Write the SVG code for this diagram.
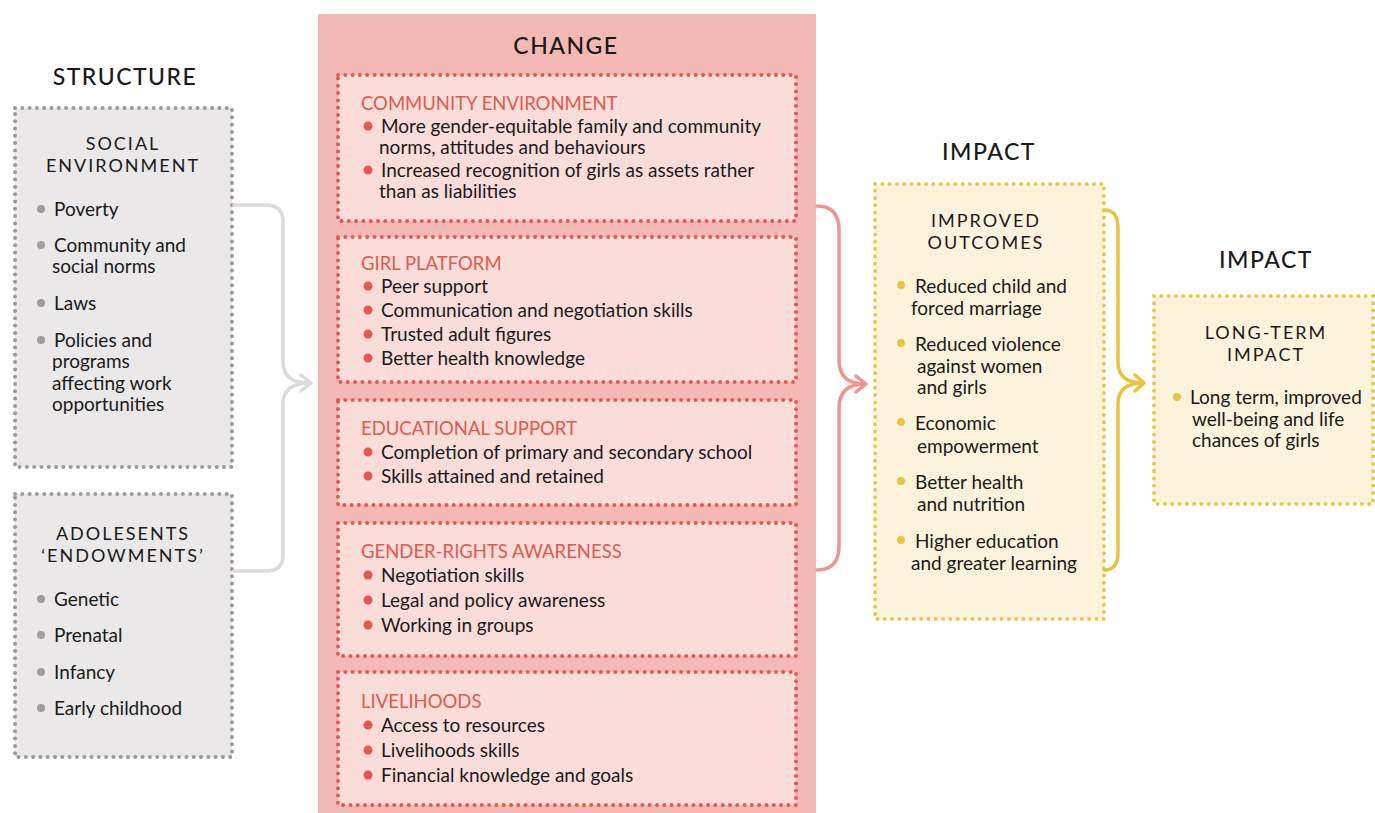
<svg xmlns="http://www.w3.org/2000/svg" width="1375" height="813" viewBox="0 0 1375 813">
<style>
.t{font-family:Lato,"Liberation Sans",sans-serif;fill:#1a1a1a}
.title{font-size:23px;letter-spacing:1.5px;text-anchor:middle;font-weight:500}
.hdr{font-size:18px;letter-spacing:2px;text-anchor:middle}
.item{font-size:19px}
.red{font-family:Lato,"Liberation Sans",sans-serif;font-size:18.5px;fill:#e05a4e}
.gbox{fill:#eae8e9;stroke:#9f999d;stroke-width:4;stroke-dasharray:0 7.3;stroke-linecap:round}
.pbox{fill:#fadcd9;stroke:#e8574f;stroke-width:4;stroke-dasharray:0 7.3;stroke-linecap:round}
.ybox{fill:#fdf3dc;stroke:#ebc74a;stroke-width:4;stroke-dasharray:0 7.3;stroke-linecap:round}
.gb{fill:#a29ba1}.rb{fill:#e8574f}.yb{fill:#ecc443}
.con{fill:none;stroke-width:3.5;stroke-linecap:round;stroke-linejoin:round}
</style>
<rect width="1375" height="813" fill="#ffffff"/>

<g id="structure">
<text class="t title" x="125" y="85">STRUCTURE</text>
</g>
<g id="social-environment">
<rect class="gbox" x="15" y="108" width="217" height="359"/>
<text class="t hdr" x="123" y="150">SOCIAL</text>
<text class="t hdr" x="123" y="172">ENVIRONMENT</text>
<circle class="gb" cx="41" cy="209" r="4"/><text class="t item" x="54" y="216">Poverty</text>
<circle class="gb" cx="41" cy="245" r="4"/><text class="t item" x="54" y="252">Community and</text><text class="t item" x="52" y="273">social norms</text>
<circle class="gb" cx="41" cy="303" r="4"/><text class="t item" x="54" y="310">Laws</text>
<circle class="gb" cx="41" cy="340" r="4"/><text class="t item" x="54" y="347">Policies and</text><text class="t item" x="52" y="368">programs</text><text class="t item" x="52" y="390">affecting work</text><text class="t item" x="52" y="411">opportunities</text>
</g>
<g id="endowments">
<rect class="gbox" x="15" y="494" width="217" height="263"/>
<text class="t hdr" x="123" y="540">ADOLESENTS</text>
<text class="t hdr" x="123" y="562">‘ENDOWMENTS’</text>
<circle class="gb" cx="41" cy="599" r="4"/><text class="t item" x="54" y="606">Genetic</text>
<circle class="gb" cx="41" cy="635" r="4"/><text class="t item" x="54" y="642">Prenatal</text>
<circle class="gb" cx="41" cy="672" r="4"/><text class="t item" x="54" y="679">Infancy</text>
<circle class="gb" cx="41" cy="708" r="4"/><text class="t item" x="54" y="715">Early childhood</text>
</g>

<g id="change">
<rect x="318" y="14" width="498" height="799" fill="#f4b9b5"/>
<text class="t title" x="566" y="54">CHANGE</text>
</g>
<g id="community-environment">
<rect class="pbox" x="338" y="75" width="458" height="146"/>
<text class="red" x="361" y="110">COMMUNITY ENVIRONMENT</text>
<circle class="rb" cx="368" cy="126" r="4.5"/><text class="t item" x="381" y="133">More gender-equitable family and community</text><text class="t item" x="379" y="154">norms, attitudes and behaviours</text>
<circle class="rb" cx="368" cy="170" r="4.5"/><text class="t item" x="381" y="177">Increased recognition of girls as assets rather</text><text class="t item" x="379" y="198">than as liabilities</text>
</g>
<g id="girl-platform">
<rect class="pbox" x="338" y="237" width="458" height="145"/>
<text class="red" x="361" y="270">GIRL PLATFORM</text>
<circle class="rb" cx="368" cy="286" r="4.5"/><text class="t item" x="381" y="293">Peer support</text>
<circle class="rb" cx="368" cy="310" r="4.5"/><text class="t item" x="381" y="317">Communication and negotiation skills</text>
<circle class="rb" cx="368" cy="334" r="4.5"/><text class="t item" x="381" y="341">Trusted adult figures</text>
<circle class="rb" cx="368" cy="358" r="4.5"/><text class="t item" x="381" y="365">Better health knowledge</text>
</g>
<g id="educational-support">
<rect class="pbox" x="338" y="400" width="458" height="105"/>
<text class="red" x="361" y="435">EDUCATIONAL SUPPORT</text>
<circle class="rb" cx="368" cy="452" r="4.5"/><text class="t item" x="381" y="459">Completion of primary and secondary school</text>
<circle class="rb" cx="368" cy="476" r="4.5"/><text class="t item" x="381" y="483">Skills attained and retained</text>
</g>
<g id="gender-rights">
<rect class="pbox" x="338" y="523" width="458" height="133"/>
<text class="red" x="361" y="558">GENDER-RIGHTS AWARENESS</text>
<circle class="rb" cx="368" cy="575" r="4.5"/><text class="t item" x="381" y="582">Negotiation skills</text>
<circle class="rb" cx="368" cy="600" r="4.5"/><text class="t item" x="381" y="607">Legal and policy awareness</text>
<circle class="rb" cx="368" cy="625" r="4.5"/><text class="t item" x="381" y="632">Working in groups</text>
</g>
<g id="livelihoods">
<rect class="pbox" x="338" y="672" width="458" height="133"/>
<text class="red" x="361" y="708">LIVELIHOODS</text>
<circle class="rb" cx="368" cy="725" r="4.5"/><text class="t item" x="381" y="732">Access to resources</text>
<circle class="rb" cx="368" cy="750" r="4.5"/><text class="t item" x="381" y="757">Livelihoods skills</text>
<circle class="rb" cx="368" cy="775" r="4.5"/><text class="t item" x="381" y="782">Financial knowledge and goals</text>
</g>

<g id="impact-outcomes">
<text class="t title" x="989" y="160">IMPACT</text>
<rect class="ybox" x="875" y="184" width="229" height="435"/>
<text class="t hdr" x="986" y="227">IMPROVED</text>
<text class="t hdr" x="986" y="249">OUTCOMES</text>
<circle class="yb" cx="901" cy="285" r="4"/><text class="t item" x="915" y="293">Reduced child and</text><text class="t item" x="911" y="315">forced marriage</text>
<circle class="yb" cx="901" cy="343" r="4"/><text class="t item" x="915" y="351">Reduced violence</text><text class="t item" x="917" y="373">against women</text><text class="t item" x="917" y="394">and girls</text>
<circle class="yb" cx="901" cy="422" r="4"/><text class="t item" x="915" y="430">Economic</text><text class="t item" x="917" y="453">empowerment</text>
<circle class="yb" cx="901" cy="481" r="4"/><text class="t item" x="915" y="489">Better health</text><text class="t item" x="917" y="511">and nutrition</text>
<circle class="yb" cx="901" cy="540" r="4"/><text class="t item" x="915" y="548">Higher education</text><text class="t item" x="911" y="570">and greater learning</text>
</g>

<g id="impact-long-term">
<text class="t title" x="1266" y="268">IMPACT</text>
<rect class="ybox" x="1154" y="296" width="219" height="208"/>
<text class="t hdr" x="1266" y="339">LONG-TERM</text>
<text class="t hdr" x="1266" y="361">IMPACT</text>
<circle class="yb" cx="1177" cy="397" r="4"/><text class="t item" x="1190" y="404">Long term, improved</text><text class="t item" x="1192" y="426">well-being and life</text><text class="t item" x="1192" y="447">chances of girls</text>
</g>

<g id="connectors">
<path class="con" stroke="#dedadb" d="M234 205 H266 Q283 205 283 222 V362 Q283 383 310 383 M283 555 Q283 571 266 571 H234 M283 555 V404 Q283 383 310 383 M301 375 L311 383 L301 391"/>
<path class="con" stroke="#ee9690" d="M817 206 Q839 206 839 230 V360 Q839 384 865 384 M817 570 Q839 570 839 546 V408 Q839 384 865 384 M856 376 L866 384 L856 392"/>
<path class="con" stroke="#ebc23f" d="M1104 210 Q1118 210 1118 228 V362 Q1118 383 1143 383 M1104 570 Q1118 570 1118 552 V404 Q1118 383 1143 383 M1135 375 L1144 383 L1135 391"/>
</g>
</svg>
